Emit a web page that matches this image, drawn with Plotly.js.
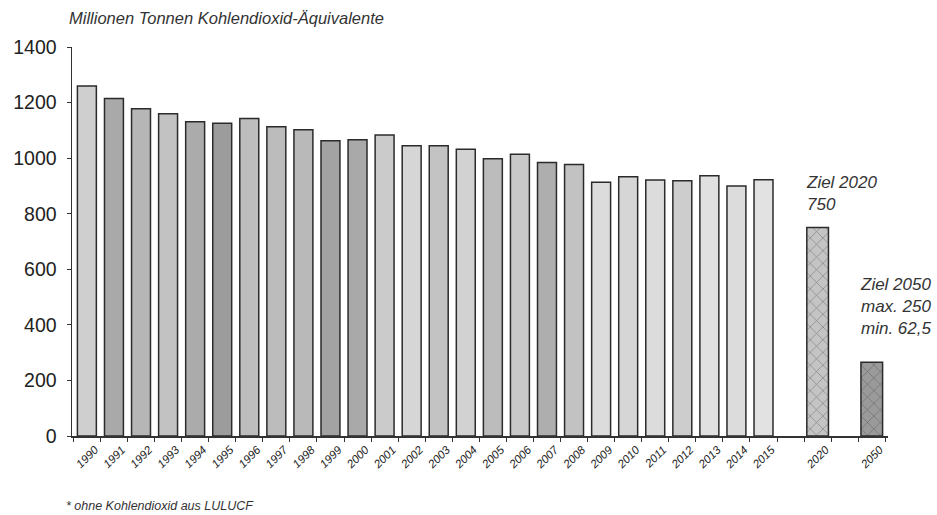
<!DOCTYPE html>
<html>
<head>
<meta charset="utf-8">
<script src="https://cdn.plot.ly/plotly-3.0.1.min.js"></script>
<style>html,body{margin:0;padding:0;background:#fff;}#chart{width:937px;height:515px;}</style>
</head>
<body>
<div id="chart"></div>
<script>
// Data (Mio. t CO2-Äquivalente)
const years = ["1990","1991","1992","1993","1994","1995","1996","1997","1998","1999",
  "2000","2001","2002","2003","2004","2005","2006","2007","2008","2009",
  "2010","2011","2012","2013","2014","2015"];
const emissions = [1260,1215,1178,1160,1131,1126,1143,1113,1102,1063,
  1066,1083,1045,1045,1032,998,1014,984,977,913,
  933,921,919,937,900,922];
const targetLabels = ["2020","2050"];
const targetValues = [750,265];
const yTicks = [0,200,400,600,800,1000,1200,1400];

// styles
const histColors = ["#cfcfcf","#a9a9a9","#b6b6b6","#c2c2c2","#ababab","#9c9c9c","#bdbdbd","#bcbcbc","#b9b9b9","#a3a3a3",
  "#a9a9a9","#cbcbcb","#d6d6d6","#c3c3c3","#d2d2d2","#bcbcbc","#c8c8c8","#aeaeae","#c2c2c2","#dcdcdc",
  "#d6d6d6","#dcdcdc","#cdcdcd","#e0e0e0","#dcdcdc","#e2e2e2"];
const targetColors = ["#c4c4c4","#9a9a9a"];

const gap1 = " ", gap2 = "  ";
const categoryOrder = years.concat([gap1, targetLabels[0], gap2, targetLabels[1]]);
const idx2020 = categoryOrder.indexOf(targetLabels[0]);
const idx2050 = categoryOrder.indexOf(targetLabels[1]);

const traces = [
  {
    type: "bar", x: years, y: emissions, width: 0.7,
    marker: {color: histColors, line: {color: "#2b2b2b", width: 1.5}},
    hoverinfo: "x+y", showlegend: false
  },
  {
    type: "bar", x: targetLabels, y: targetValues, width: 0.8,
    marker: {color: targetColors, line: {color: "#2b2b2b", width: 1.5},
      pattern: {shape: "x", fgcolor: "#555", bgcolor: targetColors, size: 9, solidity: 0.15, fillmode: "overlay"}},
    hoverinfo: "x+y", showlegend: false
  }
];

const fontFam = "Liberation Sans, Arial, sans-serif";
const layout = {
  width: 937, height: 515,
  margin: {l: 72, r: 49, t: 47, b: 79},
  paper_bgcolor: "#fff", plot_bgcolor: "#fff",
  barmode: "overlay",
  font: {family: fontFam, color: "#222"},
  xaxis: {
    type: "category", categoryorder: "array", categoryarray: categoryOrder,
    range: [-0.55, categoryOrder.length - 0.4],
    showline: true, linecolor: "#333", linewidth: 1.5,
    ticks: "outside", tickson: "boundaries", ticklen: 4, tickcolor: "#333",
    tickangle: -45, tickfont: {size: 11.5, style: "italic", color: "#222"},
    ticklabelshift: 8, ticklabelstandoff: 1,
    showgrid: false, zeroline: false, fixedrange: true
  },
  yaxis: {
    range: [0, 1400], tickvals: yTicks, ticktext: yTicks.map(String),
    showline: true, linecolor: "#333", linewidth: 1.5,
    ticks: "outside", ticklen: 4, tickcolor: "#333",
    tickfont: {size: 19.5, color: "#222"}, ticklabelstandoff: 6,
    showgrid: false, zeroline: false, fixedrange: true
  },
  annotations: [
    {text: "<i>Millionen Tonnen Kohlendioxid-Äquivalente</i>", xref: "paper", yref: "paper",
      x: -0.006, y: 1.0, yshift: 29, xanchor: "left", yanchor: "middle", showarrow: false,
      font: {size: 16.5, color: "#333", family: fontFam}},
    {text: "<i>Ziel 2020<br>750</i>", xref: "x", yref: "y", x: idx2020, y: targetValues[0],
      xanchor: "left", yanchor: "bottom", xshift: -14, yshift: 12, align: "left", showarrow: false,
      font: {size: 17, color: "#333", family: fontFam}},
    {text: "<i>Ziel 2050<br>max. 250<br>min. 62,5</i>", xref: "x", yref: "y", x: idx2050, y: targetValues[1],
      xanchor: "left", yanchor: "bottom", xshift: -14, yshift: 22, align: "left", showarrow: false,
      font: {size: 17, color: "#333", family: fontFam}},
    {text: "<i>* ohne Kohlendioxid aus LULUCF</i>", xref: "paper", yref: "paper",
      x: -0.01, y: 0, yshift: -70, xanchor: "left", yanchor: "middle", showarrow: false,
      font: {size: 12.5, color: "#333", family: fontFam}}
  ]
};

Plotly.newPlot("chart", traces, layout, {displayModeBar: false, staticPlot: true});
</script>
</body>
</html>
